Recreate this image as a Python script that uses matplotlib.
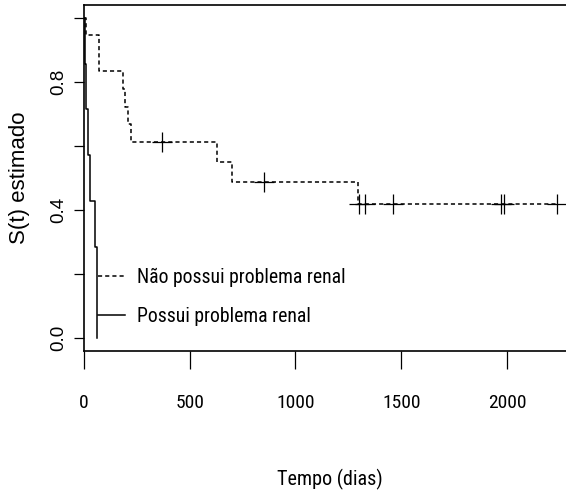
import numpy as np
import matplotlib
matplotlib.use("Agg")
import matplotlib.pyplot as plt
from matplotlib import font_manager as fm

# ---------------- data ----------------
# Kaplan-Meier estimates: "Não possui problema renal" (dashed)
t_nao = [0, 8, 71, 186, 194, 206, 220, 630, 698, 1296, 2237]
s_nao = [1.0, 0.947, 0.833, 0.778, 0.722, 0.667, 0.611, 0.55, 0.489, 0.42, 0.42]
cens_nao = [367, 850, 1300, 1328, 1462, 1974, 1985, 2237]

# "Possui problema renal" (solid)
t_sim = [0, 3, 11, 19, 27, 53, 61]
s_sim = [1.0, 0.857, 0.714, 0.571, 0.429, 0.286, 0.0]

labels = ["Não possui problema renal", "Possui problema renal"]
xticks = [0, 500, 1000, 1500, 2000]
yticks = [0.0, 0.4, 0.8]
ytick_minor = [0.2, 0.6, 1.0]
xlabel = "Tempo (dias)"
ylabel = "S(t) estimado"

# ---------------- fonts ----------------
avail = {f.name for f in fm.fontManager.ttflist}
narrow = next((f for f in ["Liberation Sans Narrow", "Roboto Condensed",
                           "Open Sans Condensed"] if f in avail), "Liberation Sans")
regular = "Liberation Sans" if "Liberation Sans" in avail else "DejaVu Sans"

# ---------------- figure ----------------
W, H = 566, 499
fig = plt.figure(figsize=(W / 100, H / 100), dpi=100)
ax = fig.add_axes([84 / W, (H - 351) / H, 492 / W, 346 / H])

xmax = max(max(t_nao), max(t_sim)) * 1.04
ax.set_xlim(0, xmax)
ax.set_ylim(-0.04, 1.04)

ln1, = ax.step(t_nao, s_nao, where="post", color="black", lw=1.1,
               linestyle=(0, (2.7, 2.0)))
ln2, = ax.step(t_sim, s_sim, where="post", color="black", lw=1.1)

# censoring marks: value of the step function at censor time
t_arr = np.array(t_nao)
s_arr = np.array(s_nao)
idx = np.searchsorted(t_arr, cens_nao, side="right") - 1
ax.plot(cens_nao, s_arr[idx], linestyle="none", marker="+", color="black",
        markersize=14.5, markeredgewidth=0.9)

# axes styling (R base look)
for sp in ax.spines.values():
    sp.set_linewidth(1.2)
    sp.set_color("black")

ax.set_xticks(xticks)
ax.set_xticklabels([str(v) for v in xticks], fontfamily=narrow, fontsize=14)
ax.tick_params(axis="x", length=13, width=0.9, pad=18)

ax.set_yticks(yticks + ytick_minor)
ax.set_yticklabels([f"{v:.1f}" for v in yticks] + [""] * len(ytick_minor),
                   fontfamily=regular, fontsize=13.5, rotation=90, va="center")
ax.tick_params(axis="y", length=7, width=0.9, pad=5)

ax.set_xlabel(xlabel, fontfamily=narrow, fontsize=14.5)
ax.xaxis.set_label_coords(0.5, -(469 - 351) / 346)
ax.set_ylabel(ylabel, fontfamily=regular, fontsize=16)
ax.yaxis.set_label_coords((30 - 84) / 492, 0.5)

leg = ax.legend([ln1, ln2], labels, loc="upper left",
                bbox_to_anchor=((98 - 84) / 492, (351 - 268) / 346),
                frameon=False, borderaxespad=0, borderpad=0,
                handlelength=1.35, handletextpad=0.65, labelspacing=1.0,
                prop={"family": narrow, "size": 14.2})

fig.savefig("out.png", dpi=100)
